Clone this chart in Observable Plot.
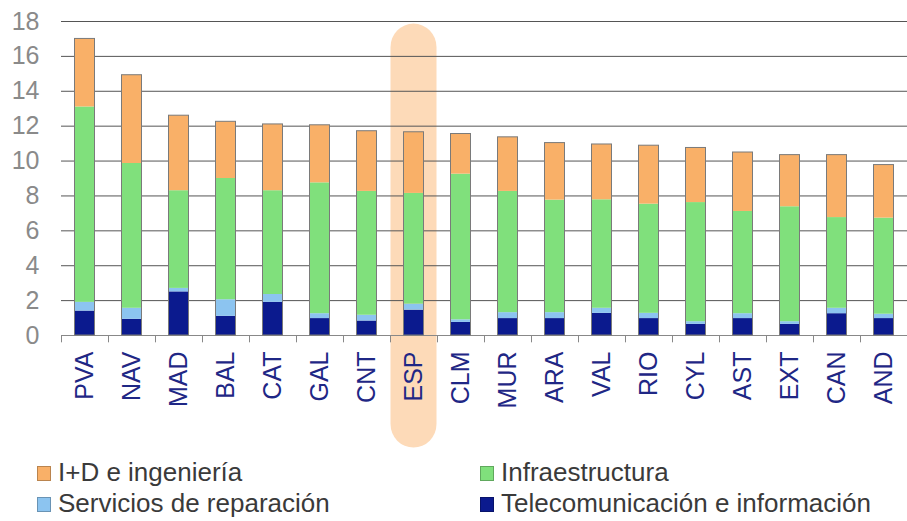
<!DOCTYPE html>
<html>
<head>
<meta charset="utf-8">
<script src="https://cdn.jsdelivr.net/npm/d3@7"></script>
<script src="https://cdn.jsdelivr.net/npm/@observablehq/plot@0.6"></script>
<style>
  html, body { margin: 0; padding: 0; background: #fff; overflow: hidden; }
  #wrap { position: relative; width: 907px; height: 521px; font-family: "Liberation Sans", Arial, sans-serif; }
  #chart { position: absolute; left: 0; top: 0; }
  .leg { position: absolute; font-size: 26px; line-height: 26px; color: #3a3a3a; white-space: nowrap; }
  .sw { position: absolute; width: 14px; height: 15px; box-sizing: border-box; border: 1px solid rgba(0,0,0,0.25); }
</style>
</head>
<body>
<div id="wrap">
  <div id="chart"></div>
  <div id="legend"></div>
</div>
<script>
const regions = ["PVA","NAV","MAD","BAL","CAT","GAL","CNT","ESP","CLM","MUR","ARA","VAL","RIO","CYL","AST","EXT","CAN","AND"];
const seriesNames = ["Telecomunicación e información","Servicios de reparación","Infraestructura","I+D e ingeniería"];
const tele  = [1.4,0.93,2.5,1.1,1.9,0.97,0.83,1.45,0.75,0.97,0.97,1.27,0.97,0.64,0.97,0.64,1.25,0.97];
const rep   = [0.5,0.63,0.2,0.95,0.45,0.28,0.33,0.35,0.15,0.34,0.34,0.29,0.3,0.15,0.28,0.15,0.31,0.25];
const infra = [11.2,8.3,5.6,6.95,5.95,7.5,7.1,6.35,8.35,6.95,6.45,6.22,6.26,6.83,5.86,6.59,5.2,5.51];
const idi   = [3.9,5.06,4.3,3.25,3.8,3.3,3.45,3.5,2.3,3.1,3.27,3.17,3.35,3.13,3.38,2.96,3.58,3.04];
const yTicks = [0,2,4,6,8,10,12,14,16,18];
const highlighted = ["ESP"];
const highlightTop = 17.85, highlightBottom = -6.45;
const colors = ["#0b1a8e","#8cc4f0","#80e07c","#f9b068"];

const seriesValues = [tele, rep, infra, idi];
const long = [];
regions.forEach((r, i) => seriesValues.forEach((vals, s) => long.push({region: r, series: seriesNames[s], value: vals[i]})));
const totals = regions.map((r, i) => ({region: r, total: seriesValues.reduce((a, v) => a + v[i], 0)}));

const W = 907, H = 450, mL = 61, mR = 0;
const bw = (W - mL - mR) / regions.length;
const inset = (bw - 20) / 2;

const plot = Plot.plot({
  width: W, height: H,
  marginTop: 21, marginBottom: 115, marginLeft: mL, marginRight: mR,
  style: {fontFamily: "'Liberation Sans', Arial, sans-serif", background: "transparent", overflow: "visible"},
  x: {domain: regions, padding: 0},
  y: {domain: [0, 18]},
  color: {domain: seriesNames, range: colors},
  marks: [
    Plot.barY(highlighted, {x: d => d, y1: highlightTop, y2: highlightBottom, fill: "#fddab8", rx: bw / 2, insetLeft: 0.5, insetRight: 0.5}),
    Plot.gridY(yTicks, {stroke: "#555", strokeOpacity: 1, strokeWidth: 1}),
    Plot.ruleY([0], {stroke: "#888", strokeWidth: 1.2}),
    Plot.ruleX(regions, {x: d => d, dx: -bw / 2, y1: 0, y2: -0.42, stroke: "#888"}),
    Plot.ruleX(regions.slice(-1), {x: d => d, dx: bw / 2, y1: 0, y2: -0.42, stroke: "#888"}),
    Plot.barY(long, {x: "region", y: "value", fill: "series", order: seriesNames, insetLeft: inset, insetRight: inset}),
    Plot.barY(totals, {x: "region", y: "total", fill: "none", stroke: "#7a7a7a", strokeWidth: 1, insetLeft: inset, insetRight: inset}),
    Plot.axisY(yTicks, {tickSize: 0, tickPadding: 22, fontSize: 25, fill: "#8a8a8a", label: null}),
    Plot.axisX({tickSize: 0, tickRotate: -90, tickPadding: 16, fontSize: 25, fill: "#1f2785", label: null})
  ]
});
document.getElementById("chart").appendChild(plot);

// legend
const legendOrder = [
  {name: "I+D e ingeniería", color: colors[3], left: 37, top: 459},
  {name: "Infraestructura", color: colors[2], left: 480, top: 459},
  {name: "Servicios de reparación", color: colors[1], left: 37, top: 490},
  {name: "Telecomunicación e información", color: colors[0], left: 480, top: 490}
];
const leg = document.getElementById("legend");
legendOrder.forEach(item => {
  const sw = document.createElement("div");
  sw.className = "sw";
  sw.style.background = item.color;
  sw.style.left = item.left + "px";
  sw.style.top = (item.top + 7) + "px";
  leg.appendChild(sw);
  const t = document.createElement("div");
  t.className = "leg";
  t.textContent = item.name;
  t.style.left = (item.left + 21) + "px";
  t.style.top = item.top + "px";
  leg.appendChild(t);
});
</script>
</body>
</html>
